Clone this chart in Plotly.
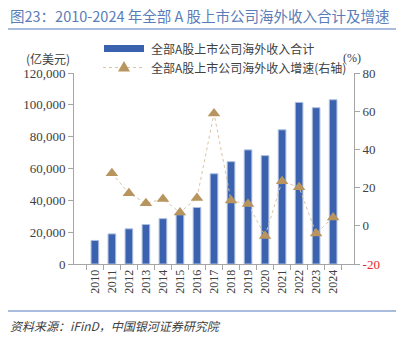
import plotly.graph_objects as go

years = [str(y) for y in range(2010, 2025)]
revenue = [14800, 18900, 22100, 24800, 28500, 31000, 35500, 56700, 64300, 71700, 68100, 84300, 101500, 98200, 103200]
growth = [None, 27.5, 17.0, 11.8, 14.0, 7.0, 14.6, 58.8, 13.2, 11.4, -5.3, 23.3, 20.2, -4.0, 4.4]

left_ticks = [0, 20000, 40000, 60000, 80000, 100000, 120000]
right_ticks = [-20, 0, 20, 40, 60, 80]

bar_name = "全部A股上市公司海外收入合计"
line_name = "全部A股上市公司海外收入增速(右轴)"

W, H = 409, 338
L, R, T, B = 74, 354, 73, 264

def px(x):
    return (x - L) / (R - L)

def py(y):
    return (B - y) / (B - T)

serif = "Liberation Serif, Noto Sans CJK SC, serif"
cjk = "Noto Sans CJK SC, Liberation Serif, serif"
bar_color = "#3a62ae"
tri_color = "#b8955e"
dot_color = "#d8c4a4"

fig = go.Figure()
fig.add_trace(go.Bar(
    x=years, y=revenue, name=bar_name, showlegend=False,
    marker=dict(color=bar_color, line=dict(color="#aebfe0", width=1)),
    width=0.45, yaxis="y"))
fig.add_trace(go.Scatter(
    x=years, y=growth, name=line_name, showlegend=False,
    mode="lines+markers",
    line=dict(color=dot_color, width=1, dash="dot"),
    marker=dict(symbol="triangle-up", size=11, color=tri_color),
    yaxis="y2"))

right_text = [f"<span style='color:#e8262a'>{v}</span>" if v < 0 else str(v) for v in right_ticks]

fig.update_layout(
    width=W, height=H,
    margin=dict(l=L, r=W - R, t=T, b=H - B),
    paper_bgcolor="white", plot_bgcolor="white",
    font=dict(family=serif, size=12, color="#404040"),
    showlegend=False,
    bargap=0.5,
    xaxis=dict(type="category", showline=True, linecolor="#a6a6a6", linewidth=1,
               ticks="outside", tickson="boundaries", ticklen=5, tickcolor="#a6a6a6",
               tickangle=-90, tickfont=dict(family=serif, size=12, color="#404040"),
               showgrid=False, zeroline=False),
    yaxis=dict(range=[0, 120000], tickvals=left_ticks,
               ticktext=[f"{v:,}" for v in left_ticks],
               showline=True, linecolor="#a6a6a6", linewidth=1,
               ticks="outside", ticklen=5, tickcolor="#a6a6a6",
               showgrid=False, zeroline=False,
               tickfont=dict(family=serif, size=13, color="#404040")),
    yaxis2=dict(range=[-20, 80], tickvals=right_ticks, ticktext=right_text,
                overlaying="y", side="right",
                showline=True, linecolor="#a6a6a6", linewidth=1,
                ticks="outside", ticklen=5, tickcolor="#a6a6a6",
                showgrid=False, zeroline=False,
                tickfont=dict(family=serif, size=13, color="#404040")),
)

# Legend (manual)
fig.add_shape(type="rect", xref="paper", yref="paper", x0=px(104), x1=px(144), y0=py(52), y1=py(45),
              fillcolor=bar_color, line=dict(width=0))
fig.add_annotation(xref="paper", yref="paper", x=px(149), y=py(48.5), xanchor="left", yanchor="middle",
                   text=bar_name, showarrow=False, font=dict(family=cjk, size=12, color="#404040"))
fig.add_shape(type="line", xref="paper", yref="paper", x0=px(103), x1=px(144), y0=py(67.5), y1=py(67.5),
              line=dict(color=dot_color, width=1, dash="dot"))
fig.add_shape(type="path", xref="paper", yref="paper",
              path=f"M {px(118)} {py(71.5)} L {px(130)} {py(71.5)} L {px(124)} {py(61)} Z",
              fillcolor=tri_color, line=dict(width=0))
fig.add_annotation(xref="paper", yref="paper", x=px(149), y=py(67.5), xanchor="left", yanchor="middle",
                   text=line_name, showarrow=False, font=dict(family=cjk, size=12, color="#404040"))

# Title
fig.add_annotation(xref="paper", yref="paper", x=px(8), y=py(15), xanchor="left", yanchor="middle",
                   text="图23：2010-2024 年全部 A 股上市公司海外收入合计及增速", showarrow=False,
                   font=dict(family=cjk, size=14.5, color="#5a7db8"))
# Lines
fig.add_shape(type="line", xref="paper", yref="paper", x0=px(8), x1=px(396), y0=py(29), y1=py(29),
              line=dict(color="#8ea6d2", width=1.5))
fig.add_shape(type="line", xref="paper", yref="paper", x0=px(8), x1=px(396), y0=py(311), y1=py(311),
              line=dict(color="#8ea6d2", width=1.5))
# Axis unit labels
fig.add_annotation(xref="paper", yref="paper", x=px(48), y=py(58), xanchor="center", yanchor="middle",
                   text="(亿美元)", showarrow=False, font=dict(family=cjk, size=12, color="#404040"))
fig.add_annotation(xref="paper", yref="paper", x=px(352), y=py(58), xanchor="center", yanchor="middle",
                   text="(%)", showarrow=False, font=dict(family=serif, size=12, color="#404040"))
# Source
fig.add_annotation(xref="paper", yref="paper", x=px(8), y=py(325), xanchor="left", yanchor="middle",
                   text="<i>资料来源：iFinD，中国银河证券研究院</i>", showarrow=False,
                   font=dict(family=cjk, size=12, color="#404040"))

fig.write_html("out.html")
